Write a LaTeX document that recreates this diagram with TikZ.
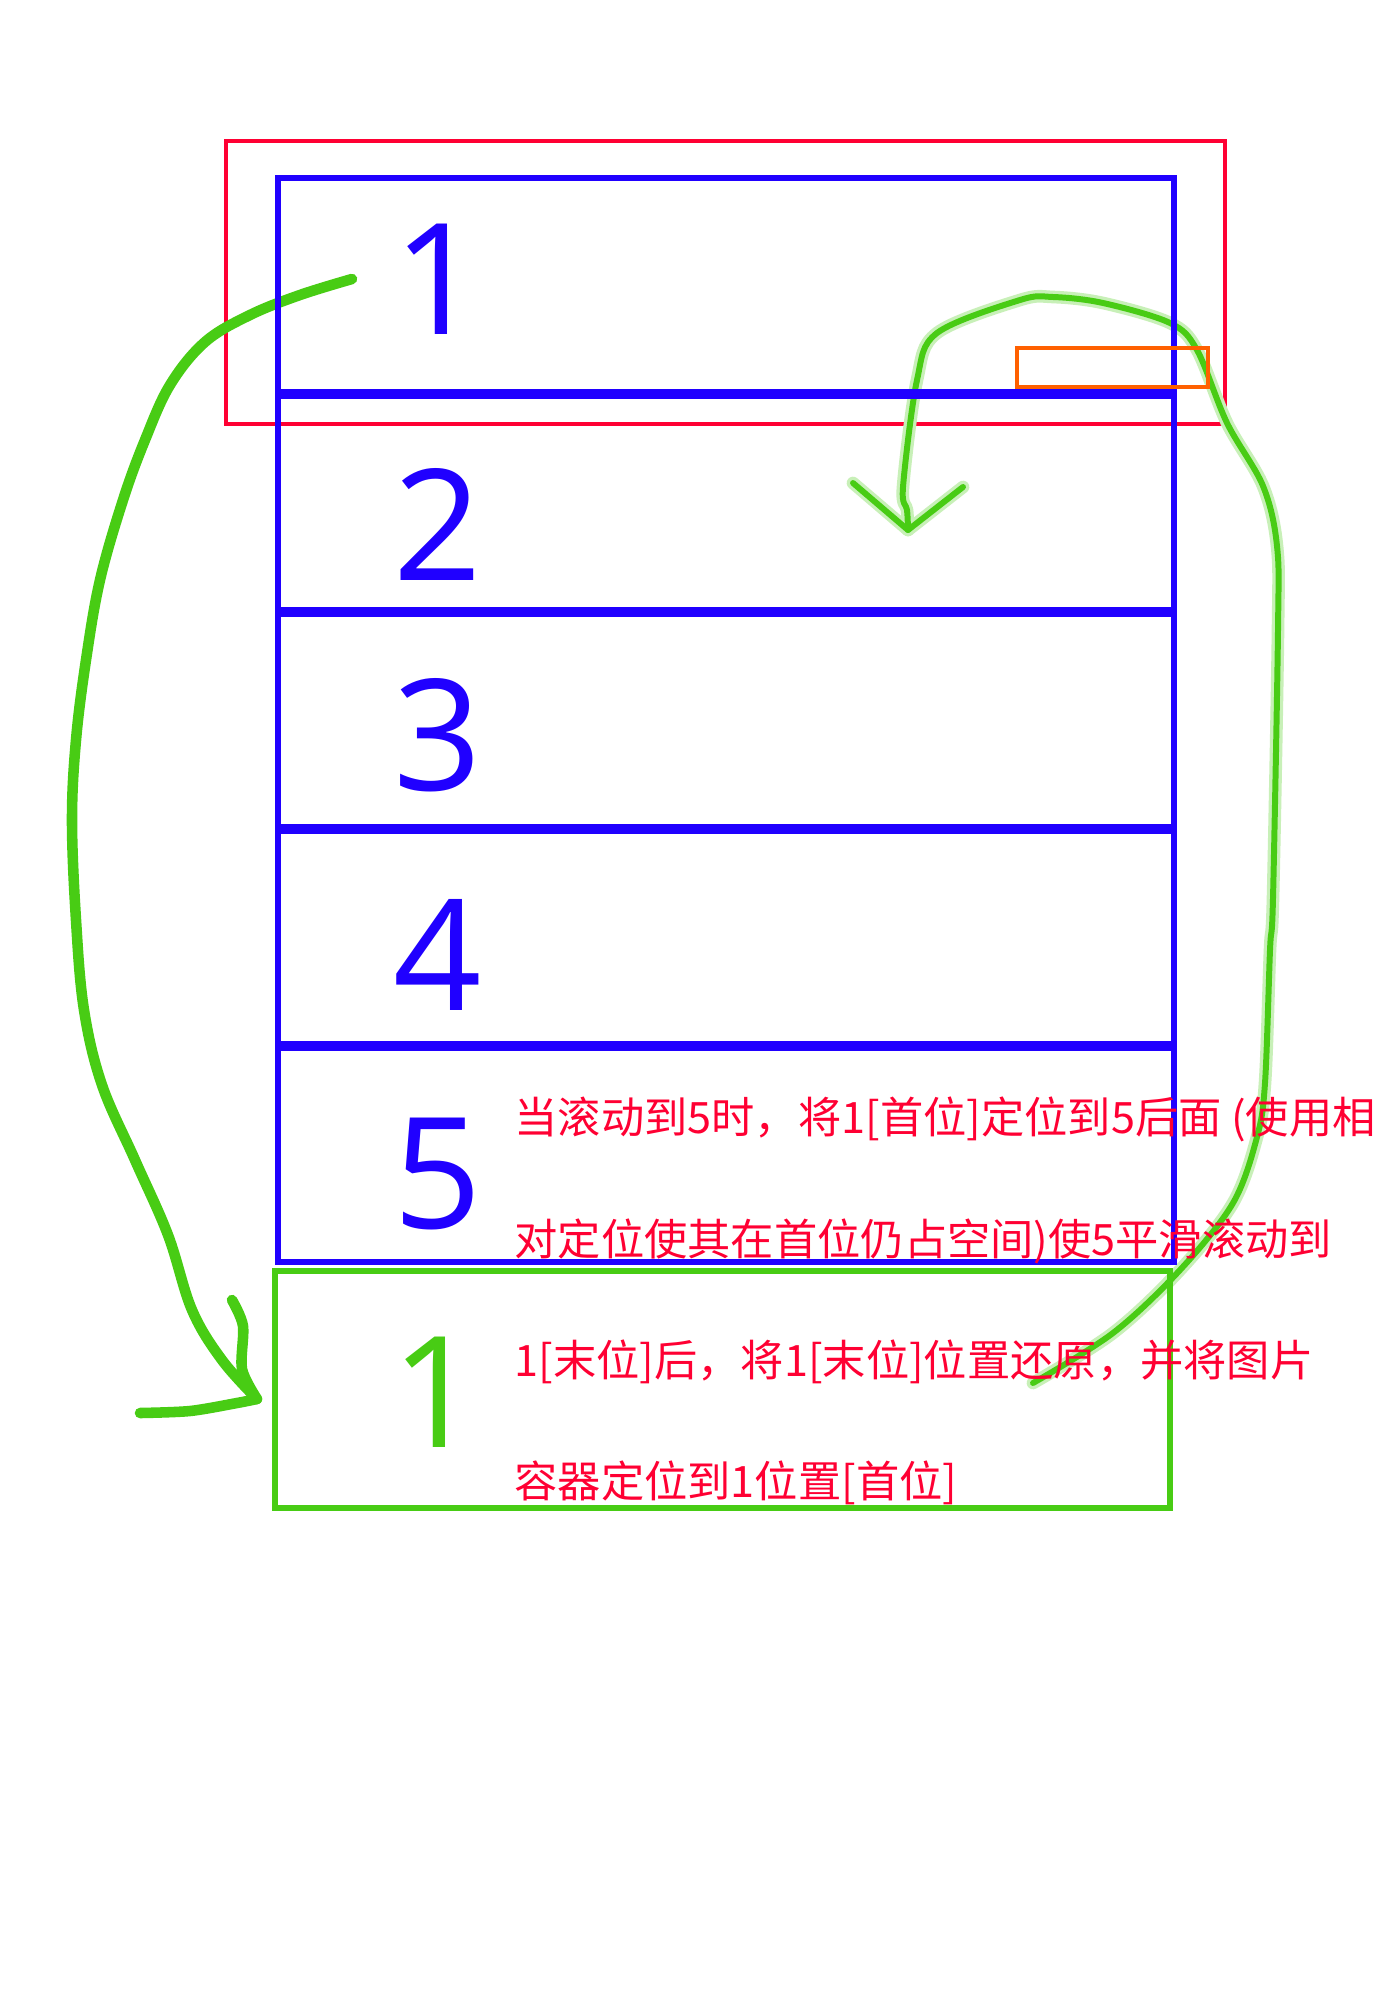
\documentclass[tikz,border=0pt]{standalone}
\usepackage{fontspec}
\setmainfont{Open Sans}
\newfontfamily\numfont{Open Sans}
\newfontfamily\cjk{Noto Sans CJK SC}
\usepackage{xcolor}
\usepackage{tikz}
\usetikzlibrary{positioning}
\definecolor{slideblue}{RGB}{32,0,255}
\definecolor{framered}{RGB}{255,0,51}
\definecolor{sketchgreen}{RGB}{72,204,20}
\definecolor{markorange}{RGB}{255,96,0}

\begin{document}
\begin{tikzpicture}[
    x=0.01cm,y=-0.01cm,
    slot/.style={draw=slideblue,line width=1.6pt},
    divider/.style={draw=slideblue,line width=2.85pt},
    digit/.style={anchor=base,inner sep=0pt,text=slideblue,
                  font=\numfont\fontsize{44}{44}\selectfont},
    note/.style={anchor=base west,inner sep=0pt,text=framered,
                 font=\cjk\fontsize{12.3}{14}\selectfont},
    sketch/.style={draw=sketchgreen,line cap=round,line join=round},
    glow/.style={draw=sketchgreen!30,line cap=round,line join=round,line width=3.6pt},
    fineline/.style={sketch,line width=1.7pt}
  ]
  \useasboundingbox[fill=white] (0,0) rectangle (1400,2000);
  % visible window
  \draw[framered,line width=1.3pt] (226,141) rectangle (1225,424);
  % hand-drawn arrows
  \coordinate (wrap-from) at (352,279);
  \coordinate (wrap-to)   at (257,1399);
  \draw[sketch,line width=3pt] plot[smooth,tension=0.6] coordinates {
    (wrap-from) (300,295) (250,315) (205,342) (170,385) (145,440) (123,500)
    (100,580) (86,660) (76,740) (72,820) (76,920) (84,1010) (102,1085)
    (135,1160) (168,1235) (192,1310) (222,1360) (wrap-to)};
  \draw[sketch,line width=3pt] plot[smooth,tension=0.5] coordinates {
    (232,1300) (243,1326) (242,1369) (wrap-to)};
  \draw[sketch,line width=3pt] plot[smooth,tension=0.5] coordinates {
    (140,1413) (190,1411) (237,1403) (wrap-to)};
  \coordinate (back-from) at (1033,1383);
  \coordinate (back-to)   at (908,530);
  \foreach \s in {glow,fineline}{
    \draw[\s] plot[smooth,tension=0.55] coordinates {
      (back-from) (1113,1333) (1180,1270) (1233,1203) (1257,1137) (1265,1083)
      (1270,950) (1273,898) (1278,630) (1277,546) (1263,486) (1227,423)
      (1197,350) (1170,323) (1103,303) (1053,297) (1020,300) (937,333)
      (917,380) (903,487) (907,510) (back-to)};
    \draw[\s] (853,483) -- (back-to) -- (963,487);
  }
  % slide strip
  \draw[slot] (278,178) rectangle (1174,1262);
  \foreach \y in {394,612,829,1046}
    \draw[divider] (278,\y) -- (1174,\y);
  \foreach \n/\y in {1/334,2/580,3/790,4/1010,5/1228}
    \node[digit] (d\n) at (438,\y) {\n};
  % cloned first item
  \draw[sketchgreen,line width=1.6pt] (275,1271) rectangle (1170,1508);
  \node[digit,text=sketchgreen] (d1b) at (436,1447) {1};
  \draw[markorange,line width=1.3pt] (1017,348) rectangle (1208,387);
  % explanation
  \node[note] (t1) at (514,1133) {当滚动到5时，将1[首位]定位到5后面 (使用相};
  \node[note] (t2) at (514,1255) {对定位使其在首位仍占空间)使5平滑滚动到};
  \node[note] (t3) at (514,1376) {1[末位]后，将1[末位]位置还原，并将图片};
  \node[note] (t4) at (514,1497) {容器定位到1位置[首位]};
\end{tikzpicture}
\end{document}
